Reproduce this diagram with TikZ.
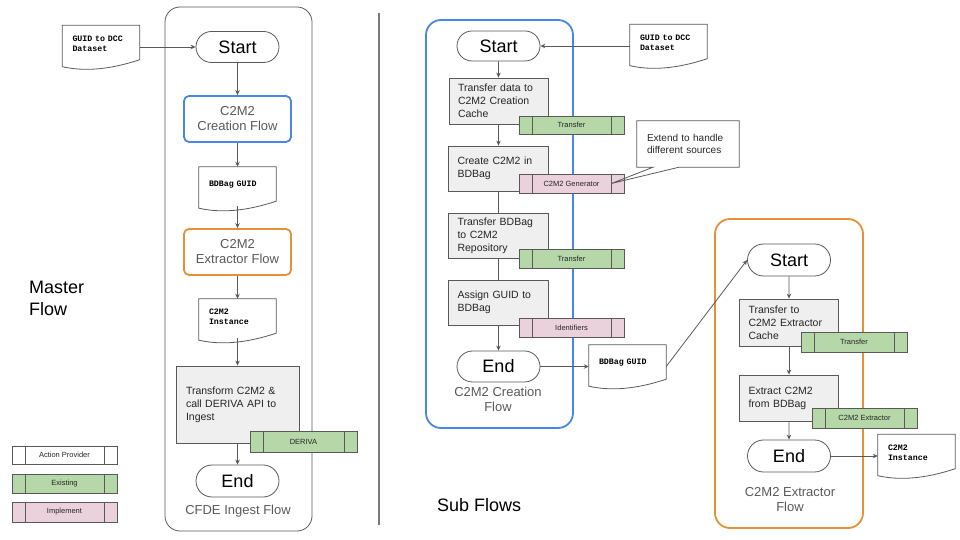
\documentclass[tikz,border=0pt]{standalone}
\usepackage{fontspec}
\setmainfont{Liberation Sans}
\setmonofont{Liberation Mono}
\usetikzlibrary{arrows.meta,shapes.misc}

\definecolor{linegray}{HTML}{595959}
\definecolor{boxgray}{HTML}{EFEFEF}
\definecolor{existgreen}{HTML}{B6D7A8}
\definecolor{implpink}{HTML}{EAD1DC}
\definecolor{flowblue}{HTML}{4A86E8}
\definecolor{floworange}{HTML}{E69138}
\definecolor{textgray}{HTML}{595959}

\tikzset{
  frame/.style={rounded corners=15bp, inner sep=0pt, line width=0.8bp},
  framelabel/.style={text=textgray, align=center, inner sep=0pt, font=\fontsize{13bp}{15bp}\selectfont},
  headline/.style={align=left, inner sep=0pt, font=\fontsize{18bp}{22bp}\selectfont},
  terminal/.style={draw=linegray, fill=white, rounded rectangle, line width=0.8bp, minimum width=83bp, minimum height=31bp, inner sep=0pt, font=\fontsize{18bp}{20bp}\selectfont},
  subflow/.style={fill=white, rounded corners=5bp, line width=1.8bp, minimum width=107bp, minimum height=46bp, inner sep=0pt, align=center, text=textgray, font=\fontsize{13bp}{15bp}\selectfont},
  actionbox/.style={draw=linegray, fill=boxgray, line width=0.8bp, align=left, inner xsep=9bp, inner ysep=0pt, text=black!85, font=\fontsize{10.5bp}{13bp}\selectfont},
  provider/.style={draw=linegray, fill=white, line width=0.8bp, minimum width=105bp, minimum height=19bp, inner sep=0pt, text=black!85, font=\fontsize{7.5bp}{9bp}\selectfont,
    path picture={
      \draw [linegray, line width=0.8bp] ([xshift=13bp]path picture bounding box.north west) -- ([xshift=13bp]path picture bounding box.south west);
      \draw [linegray, line width=0.8bp] ([xshift=-13bp]path picture bounding box.north east) -- ([xshift=-13bp]path picture bounding box.south east);
    }},
  notebox/.style={minimum width=102bp, minimum height=46bp, text width=82bp, inner xsep=10bp, inner ysep=0pt, align=left, text=black!85, font=\fontsize{10bp}{12.7bp}\selectfont},
  docbox/.style={minimum width=77bp, minimum height=43bp, inner sep=0pt},
  doctext/.style={text width=57bp, inner xsep=10bp, inner ysep=0pt, align=left, font=\ttfamily\bfseries\fontsize{8.3bp}{10bp}\selectfont},
  docline/.style={draw=linegray, line width=0.8bp},
  link/.style={->, draw=linegray, line width=0.8bp},
  plain/.style={draw=linegray, line width=0.8bp},
  divider/.style={draw=linegray!80, line width=1.8bp},
}

% document shape: name, position, text
\newcommand{\docnode}[3]{%
  \node (#1) at (#2) [docbox] {};
  \node (#1text) at ([yshift=3.5bp]#1.center) [doctext] {#3};
  \draw [docline] (#1.north west) -- (#1.north east) -- ([yshift=9bp]#1.south east)
    .. controls +(-30bp,-10bp) and +(22bp,-5bp) .. ([yshift=2bp]#1.south west) -- cycle;
}

\begin{document}
\begin{tikzpicture}[>={Stealth[length=5bp,width=4.5bp]}]
%%
  \useasboundingbox (0bp,0bp) rectangle (960bp,540bp);
  % frames
  \node (ingestframe) at (238.5bp,271bp) [frame, draw=linegray, minimum width=147bp, minimum height=524bp] {};
  \node (creationframe) at (499.5bp,316bp) [frame, draw=flowblue, line width=1.8bp, minimum width=147bp, minimum height=408bp] {};
  \node (extractorframe) at (789bp,166.5bp) [frame, draw=floworange, line width=1.8bp, minimum width=148bp, minimum height=309bp] {};
  \node (ingestlabel) at (238bp,29bp) [framelabel] {CFDE Ingest Flow};
  \node (creationlabel) at (498bp,141bp) [framelabel] {C2M2 Creation\\Flow};
  \node (extractorlabel) at (790bp,40.5bp) [framelabel] {C2M2 Extractor\\Flow};
  \node (masterlabel) at (29bp,242bp) [anchor=west, headline] {Master\\Flow};
  \node (sublabel) at (437bp,35bp) [anchor=west, headline] {Sub Flows};
  \draw [divider] (379bp,527bp) -- (379bp,15bp);
  % master flow
  \docnode{mguid}{101bp,493bp}{GUID to DCC\\Dataset}
  \node (mstart) at (237.5bp,493bp) [terminal] {Start};
  \node (mcreation) at (237.5bp,421bp) [subflow, draw=flowblue] {C2M2\\Creation Flow};
  \docnode{mbag}{237.5bp,351.5bp}{BDBag GUID}
  \node (mextractor) at (237.5bp,288bp) [subflow, draw=floworange] {C2M2\\Extractor Flow};
  \docnode{minstance}{237.5bp,219.5bp}{C2M2\\Instance}
  \node (mtransform) at (237.5bp,135.5bp) [actionbox, text width=103bp, inner xsep=10bp, minimum height=77bp] {Transform C2M2 \&\\call DERIVA API to\\Ingest};
  \node (mderiva) at (303.5bp,98.5bp) [provider, fill=existgreen, minimum width=107bp, minimum height=21bp] {DERIVA};
  \node (mend) at (237.5bp,59bp) [terminal, minimum height=32bp] {End};
  \draw [link] (mguid.east) -- (mstart.west);
  \draw [link] (mstart) -- (mcreation);
  \draw [link] (mcreation) -- (mbag);
  \draw [link] ([yshift=4bp]mbag.south) -- (mextractor);
  \draw [link] (mextractor) -- (minstance);
  \draw [link] ([yshift=4bp]minstance.south) -- (mtransform);
  \draw [link] (mtransform) -- (mend);
  % legend
  \node (legendaction) at (64.5bp,85bp) [provider, minimum height=18bp] {Action Provider};
  \node (legendexisting) at (64.5bp,56.5bp) [provider, fill=existgreen] {Existing};
  \node (legendimplement) at (64.5bp,28bp) [provider, fill=implpink, minimum height=20bp] {Implement};
  % creation sub flow
  \node (cstart) at (498.5bp,494bp) [terminal, minimum height=30bp] {Start};
  \docnode{cguid}{668.5bp,494bp}{GUID to DCC\\Dataset}
  \node (cxfer) at (498.5bp,439bp) [actionbox, text width=81bp, minimum height=46bp] {Transfer data to\\C2M2 Creation\\Cache};
  \node (cxfertag) at (571.5bp,415bp) [provider, fill=existgreen, minimum height=18bp] {Transfer};
  \node (ccreate) at (498.5bp,371.5bp) [actionbox, text width=82bp, minimum height=45bp] {Create C2M2 in\\BDBag};
  \node (cgentag) at (571.5bp,356.5bp) [provider, fill=implpink] {C2M2 Generator};
  \node (cbagxfer) at (498.5bp,304.5bp) [actionbox, text width=82bp, minimum height=45bp] {Transfer BDBag\\to C2M2\\Repository};
  \node (cbagxfertag) at (571.5bp,281.5bp) [provider, fill=existgreen] {Transfer};
  \node (cassign) at (498.5bp,237.5bp) [actionbox, text width=82bp, minimum height=45bp] {Assign GUID to\\BDBag};
  \node (cidtag) at (571.5bp,212.5bp) [provider, fill=implpink] {Identifiers};
  \node (cend) at (498.5bp,173.5bp) [terminal] {End};
  \docnode{cbag}{627.5bp,173.5bp}{BDBag GUID}
  \coordinate (extendtip) at ([xshift=-13bp]cgentag.east);
  \node (extend) at (688bp,396bp) [notebox] {Extend to handle\\different sources};
  \draw [docline] (extend.north west) -- (extend.north east) -- (extend.south east) -- ([xshift=-9bp]extend.south)
    -- (extendtip) -- ([xshift=-35bp]extend.south) -- (extend.south west) -- cycle;
  \draw [link] (cguid.west) -- (cstart.east);
  \draw [link] (cstart) -- (cxfer);
  \draw [link] (cxfer) -- (ccreate);
  \draw [plain] (ccreate) -- (cbagxfer);
  \draw [plain] (cbagxfer) -- (cassign);
  \draw [link] (cassign) -- (cend);
  \draw [link] (cend.east) -- (cbag.west);
  % extractor sub flow
  \node (xstart) at (789bp,280bp) [terminal, minimum height=32bp] {Start};
  \node (xxfer) at (789bp,217.5bp) [actionbox, text width=81bp, minimum height=47bp] {Transfer to\\C2M2 Extractor\\Cache};
  \node (xxfertag) at (854bp,198bp) [provider, fill=existgreen, minimum width=106bp, minimum height=20bp] {Transfer};
  \node (xextract) at (789bp,142bp) [actionbox, text width=81bp, minimum height=46bp] {Extract C2M2\\from BDBag};
  \node (xextracttag) at (864.5bp,122bp) [provider, fill=existgreen, minimum height=20bp] {C2M2 Extractor};
  \node (xend) at (789bp,84bp) [terminal, minimum height=32bp] {End};
  \docnode{xinstance}{916.5bp,84bp}{C2M2\\Instance}
  \draw [link] (cbag.east) -- (xstart.west);
  \draw [link] (xstart) -- (xxfer);
  \draw [link] (xxfer) -- (xextract);
  \draw [link] (xextract) -- (xend);
  \draw [link] (xend.east) -- (xinstance.west);
%
\end{tikzpicture}
\end{document}
